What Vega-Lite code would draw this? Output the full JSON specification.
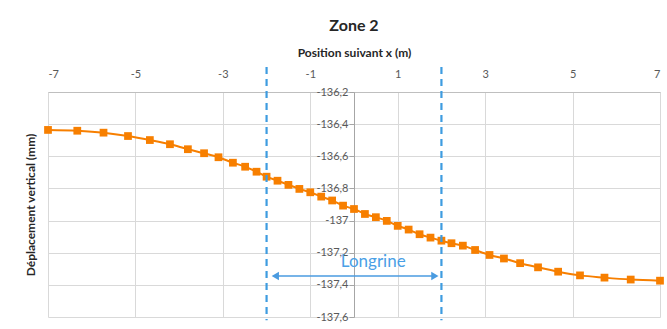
{
  "$schema": "https://vega.github.io/schema/vega-lite/v6.json",
  "width": 612,
  "height": 225,
  "autosize": {"type": "none"},
  "padding": {"left": 48, "top": 92, "right": 7, "bottom": 12},
  "background": "white",
  "config": {"view": {"stroke": null}, "font": "Lato"},
  "title": {
    "text": "Zone 2",
    "font": "Lato",
    "fontSize": 16,
    "fontWeight": "bold",
    "color": "#262626",
    "anchor": "middle",
    "offset": 12
  },
  "datasets": {
    "deplacement": [
      {"x": -7.0, "y": -136.436},
      {"x": -6.33, "y": -136.441},
      {"x": -5.73, "y": -136.453},
      {"x": -5.17, "y": -136.474},
      {"x": -4.67, "y": -136.499},
      {"x": -4.21, "y": -136.525},
      {"x": -3.8, "y": -136.556},
      {"x": -3.43, "y": -136.581},
      {"x": -3.1, "y": -136.606},
      {"x": -2.77, "y": -136.64},
      {"x": -2.49, "y": -136.665},
      {"x": -2.23, "y": -136.696},
      {"x": -2.0, "y": -136.727},
      {"x": -1.75, "y": -136.752},
      {"x": -1.5, "y": -136.778},
      {"x": -1.25, "y": -136.803},
      {"x": -1.0, "y": -136.824},
      {"x": -0.75, "y": -136.851},
      {"x": -0.5, "y": -136.875},
      {"x": -0.25, "y": -136.907},
      {"x": 0.0, "y": -136.928},
      {"x": 0.25, "y": -136.959},
      {"x": 0.5, "y": -136.979},
      {"x": 0.75, "y": -137.002},
      {"x": 1.0, "y": -137.033},
      {"x": 1.25, "y": -137.056},
      {"x": 1.5, "y": -137.085},
      {"x": 1.75, "y": -137.106},
      {"x": 2.0, "y": -137.125},
      {"x": 2.23, "y": -137.141},
      {"x": 2.49, "y": -137.156},
      {"x": 2.77, "y": -137.183},
      {"x": 3.1, "y": -137.214},
      {"x": 3.43, "y": -137.236},
      {"x": 3.8, "y": -137.265},
      {"x": 4.21, "y": -137.291},
      {"x": 4.67, "y": -137.318},
      {"x": 5.17, "y": -137.341},
      {"x": 5.73, "y": -137.355},
      {"x": 6.33, "y": -137.367},
      {"x": 7.0, "y": -137.374}
    ],
    "bornes": [
      {"x": -2, "y": -136.045, "y_bas": -137.62},
      {"x": 2, "y": -136.045, "y_bas": -137.62}
    ],
    "fleche": [
      {"x": -1.8, "x_fin": 1.85, "y": -137.345}
    ],
    "pointes": [
      {"x": -1.8, "y": -137.345, "forme": "triangle-left"},
      {"x": 1.85, "y": -137.345, "forme": "triangle-right"}
    ],
    "etiquette": [
      {"x": 0.44, "y": -137.255, "texte": "Longrine"}
    ]
  },
  "layer": [
    {
      "data": {"name": "deplacement"},
      "mark": {"type": "line", "color": "#f77f00", "strokeWidth": 2, "interpolate": "monotone"},
      "encoding": {
        "x": {
          "field": "x",
          "type": "quantitative",
          "scale": {"domain": [-7, 7], "nice": false, "zero": false},
          "axis": {
            "orient": "top",
            "values": [-7, -5, -3, -1, 1, 3, 5, 7],
            "tickCount": 20,
            "labelExpr": "replace(format(datum.value, 'd'), '−', '-')",
            "labelOverlap": false,
            "grid": true,
            "gridColor": "#d9d9d9",
            "ticks": false,
            "domainColor": "#bfbfbf",
            "labelPadding": 13,
            "labelColor": "#595959",
            "labelFont": "Lato",
            "labelFontSize": 11,
            "title": "Position suivant x (m)",
            "titleFont": "Lato",
            "titleFontSize": 12,
            "titleFontWeight": "bold",
            "titleColor": "#262626",
            "titlePadding": 9
          }
        },
        "y": {
          "field": "y",
          "type": "quantitative",
          "scale": {"domain": [-137.6, -136.2], "nice": false, "zero": false},
          "axis": {
            "orient": "left",
            "offset": -306,
            "values": [-137.6, -137.4, -137.2, -137.0, -136.8, -136.6, -136.4, -136.2],
            "tickCount": 10,
            "labelExpr": "replace(replace(format(datum.value, '.1~f'), '.', ','), '−', '-')",
            "labelOverlap": false,
            "grid": true,
            "gridColor": "#d9d9d9",
            "domainColor": "#a6a6a6",
            "tickColor": "#a6a6a6",
            "tickSize": 5,
            "labelPadding": 1,
            "labelColor": "#595959",
            "labelFont": "Lato",
            "labelFontSize": 11,
            "title": "Déplacement vertical (mm)",
            "titleFont": "Lato",
            "titleFontSize": 12,
            "titleFontWeight": "bold",
            "titleColor": "#262626",
            "titleAngle": -90,
            "titleX": -324,
            "titleY": 112.5,
            "titleAlign": "center",
            "titleBaseline": "middle"
          }
        }
      }
    },
    {
      "data": {"name": "deplacement"},
      "mark": {"type": "point", "shape": "square", "filled": true, "size": 60, "color": "#f77f00", "opacity": 1},
      "encoding": {
        "x": {"field": "x", "type": "quantitative"},
        "y": {"field": "y", "type": "quantitative"}
      }
    },
    {
      "data": {"name": "bornes"},
      "mark": {"type": "rule", "color": "#3e9ce0", "strokeWidth": 2.2, "strokeDash": [7, 5]},
      "encoding": {
        "x": {"field": "x", "type": "quantitative"},
        "y": {"field": "y", "type": "quantitative"},
        "y2": {"field": "y_bas"}
      }
    },
    {
      "data": {"name": "fleche"},
      "mark": {"type": "rule", "color": "#4a9be0", "strokeWidth": 1.5},
      "encoding": {
        "x": {"field": "x", "type": "quantitative"},
        "x2": {"field": "x_fin"},
        "y": {"field": "y", "type": "quantitative"}
      }
    },
    {
      "data": {"name": "pointes"},
      "mark": {"type": "point", "filled": true, "size": 70, "color": "#4a9be0", "opacity": 1},
      "encoding": {
        "x": {"field": "x", "type": "quantitative"},
        "y": {"field": "y", "type": "quantitative"},
        "shape": {"field": "forme", "type": "nominal", "scale": null}
      }
    },
    {
      "data": {"name": "etiquette"},
      "mark": {"type": "text", "font": "Lato", "fontSize": 17, "color": "#4aa0e6", "align": "center", "baseline": "middle"},
      "encoding": {
        "x": {"field": "x", "type": "quantitative"},
        "y": {"field": "y", "type": "quantitative"},
        "text": {"field": "texte"}
      }
    }
  ]
}
